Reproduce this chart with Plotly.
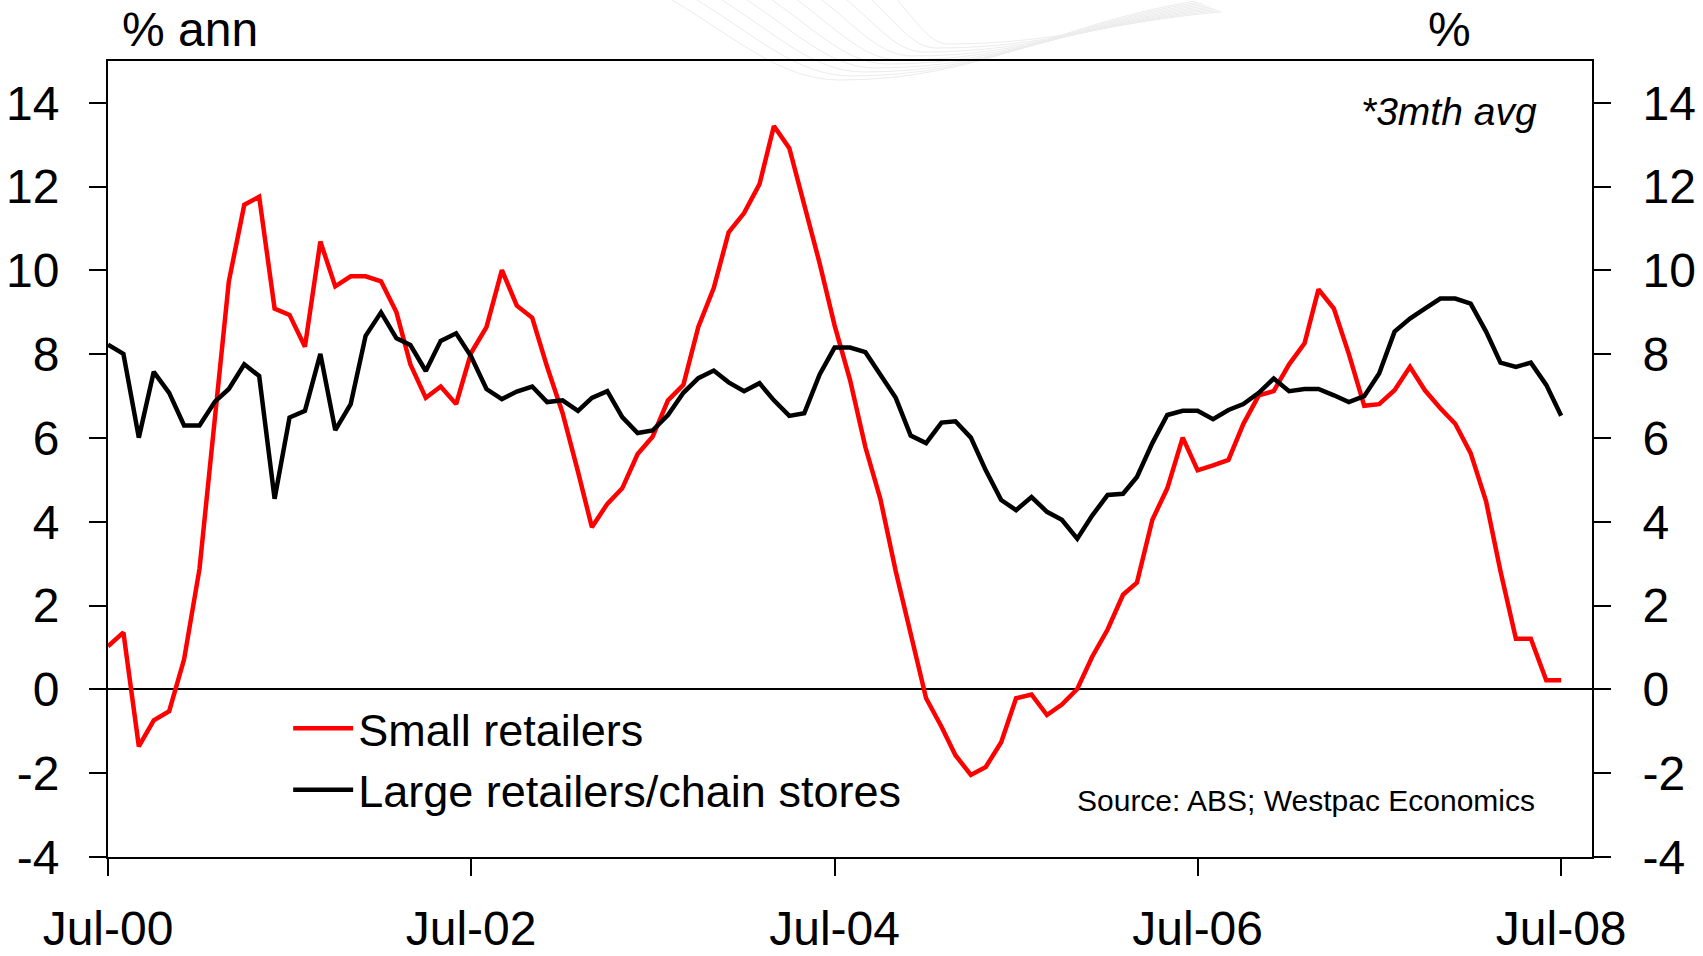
import pandas as pd
import plotly.graph_objects as go

# Monthly observations, Jul-2000 to Jul-2008 (3 month average, % annual growth)
months = pd.date_range("2000-07-01", "2008-07-01", freq="MS")

small_retailers = [
    1.03, 1.36, -1.36, -0.74, -0.52, 0.72, 2.88, 6.4, 9.74, 11.57, 11.76, 9.09,
    8.94, 8.18, 10.69, 9.62, 9.86, 9.86, 9.74, 9.0, 7.76, 6.96, 7.23, 6.81,
    8.03, 8.65, 10.01, 9.16, 8.87, 7.7, 6.6, 5.2, 3.87, 4.43, 4.80, 5.62,
    6.03, 6.90, 7.27, 8.65, 9.58, 10.91, 11.37, 12.06, 13.45, 12.92, 11.59, 10.17,
    8.69, 7.39, 5.78, 4.55, 2.82, 1.33, -0.21, -0.89, -1.57, -2.04, -1.85, -1.26,
    -0.21, -0.12, -0.61, -0.36, 0.01, 0.78, 1.43, 2.26, 2.55, 4.05, 4.80, 6.01,
    5.23, 5.35, 5.48, 6.34, 7.02, 7.12, 7.76, 8.26, 9.55, 9.09, 8.01, 6.77,
    6.81, 7.14, 7.70, 7.14, 6.71, 6.34, 5.64, 4.49, 2.82, 1.21, 1.21, 0.22,
    0.22,
]

large_retailers = [
    8.23, 8.01, 6.01, 7.58, 7.08, 6.30, 6.30, 6.87, 7.17, 7.76, 7.48, 4.55,
    6.49, 6.65, 8.01, 6.19, 6.81, 8.44, 9.0, 8.38, 8.22, 7.60, 8.32, 8.50,
    7.95, 7.17, 6.93, 7.11, 7.23, 6.86, 6.90, 6.65, 6.96, 7.12, 6.50, 6.12,
    6.18, 6.55, 7.08, 7.43, 7.61, 7.33, 7.12, 7.31, 6.90, 6.53, 6.59, 7.52,
    8.16, 8.16, 8.05, 7.52, 6.96, 6.06, 5.88, 6.37, 6.40, 6.01, 5.23, 4.52,
    4.28, 4.59, 4.24, 4.05, 3.60, 4.15, 4.64, 4.67, 5.07, 5.88, 6.55, 6.65,
    6.65, 6.45, 6.67, 6.81, 7.08, 7.42, 7.12, 7.17, 7.17, 7.02, 6.86, 7.0,
    7.54, 8.54, 8.85, 9.09, 9.33, 9.33, 9.21, 8.54, 7.80, 7.70, 7.80, 7.27,
    6.53,
]

x_tick_dates = ["2000-07-01", "2002-07-01", "2004-07-01", "2006-07-01", "2008-07-01"]
x_tick_labels = ["Jul-00", "Jul-02", "Jul-04", "Jul-06", "Jul-08"]
y_tick_values = [-4, -2, 0, 2, 4, 6, 8, 10, 12, 14]
y_tick_labels = ["-4", "-2", "0", "2", "4", "6", "8", "10", "12", "14"]

FONT = "Liberation Sans, Arial, sans-serif"

# page geometry (pixels) used for the decorative header waves
W, H = 1703, 956
PL, PR, PT, PB = 108, 111, 61, 99


def to_paper(px, py):
    return (px - PL) / (W - PL - PR), (H - PB - py) / (H - PT - PB)


def wave_path(k):
    x0, y0 = 672 + 25 * k, 0
    xt, yt = 840 + 12 * k, 80 - 4 * k
    x1, y1 = 1195 + 3 * k, 1 + 1.2 * k
    pts = [
        (x0, y0),
        (x0 + 0.4 * (xt - x0), 0.5 * yt), (xt - 0.35 * (xt - x0), yt), (xt, yt),
        (xt + 0.4 * (x1 - xt), yt), (x1 - 0.4 * (x1 - xt), y1 + 0.3 * (yt - y1)), (x1, y1),
    ]
    p = [to_paper(a, b) for a, b in pts]
    s = "M {:.5f},{:.5f} ".format(*p[0])
    s += "C {:.5f},{:.5f} {:.5f},{:.5f} {:.5f},{:.5f} ".format(*p[1], *p[2], *p[3])
    s += "C {:.5f},{:.5f} {:.5f},{:.5f} {:.5f},{:.5f}".format(*p[4], *p[5], *p[6])
    return s


fig = go.Figure()
fig.add_trace(go.Scatter(
    x=months, y=small_retailers, name="Small retailers", mode="lines",
    line=dict(color="#ff0000", width=4.5),
))
fig.add_trace(go.Scatter(
    x=months, y=large_retailers, name="Large retailers/chain stores", mode="lines",
    line=dict(color="#000000", width=4.5),
))
# invisible trace to carry the right-hand axis
fig.add_trace(go.Scatter(
    x=[months[0]], y=[None], yaxis="y2", showlegend=False, hoverinfo="skip",
))

axis_common = dict(
    range=[-4, 15], tickvals=y_tick_values, ticktext=y_tick_labels,
    ticks="outside", ticklen=17, tickwidth=1.5, tickcolor="black",
    showgrid=False, showline=True, linecolor="black", linewidth=2,
    tickfont=dict(family=FONT, size=48, color="black"),
    automargin=False,
)

fig.update_layout(
    width=W, height=H,
    margin=dict(l=PL, r=PR, t=PT, b=PB, autoexpand=False),
    paper_bgcolor="white", plot_bgcolor="white",
    font=dict(family=FONT, color="black"),
    xaxis=dict(
        type="date", range=["2000-07-01", "2008-09-01"],
        tickvals=x_tick_dates, ticktext=x_tick_labels,
        ticks="outside", ticklen=17, tickwidth=1.5, tickcolor="black",
        showgrid=False, showline=True, linecolor="black", linewidth=2, mirror=True,
        tickfont=dict(family=FONT, size=48, color="black"),
        ticklabelstandoff=11, automargin=False,
    ),
    yaxis=dict(
        **axis_common, side="left",
        zeroline=True, zerolinecolor="black", zerolinewidth=1.5,
        ticklabelstandoff=20,
    ),
    yaxis2=dict(
        **axis_common, side="right", overlaying="y",
        zeroline=False, ticklabelstandoff=22,
    ),
    legend=dict(
        x=0.1214, y=0.2066, xanchor="left", yanchor="top",
        bgcolor="rgba(0,0,0,0)", borderwidth=0,
        font=dict(family=FONT, size=45, color="black"),
        itemwidth=60, tracegroupgap=0,
    ),
    showlegend=True,
    shapes=[
        dict(type="path", path=wave_path(k), xref="paper", yref="paper",
             line=dict(color="rgb(236,236,236)", width=1), layer="below")
        for k in range(10)
    ],
)

fig.add_annotation(text="% ann", xref="paper", yref="paper", x=0.0, y=1.039,
                   xshift=12, xanchor="left", yanchor="middle",
                   showarrow=False, font=dict(family=FONT, size=48, color="black"))
fig.add_annotation(text="%", xref="paper", yref="paper", x=1.0, y=1.039,
                   xshift=-143, xanchor="center", yanchor="middle",
                   showarrow=False, font=dict(family=FONT, size=48, color="black"))
fig.add_annotation(text="<i>*3mth avg</i>", xref="paper", yref="paper", x=1.0, y=0.937,
                   xshift=-53, xanchor="right", yanchor="middle",
                   showarrow=False, font=dict(family=FONT, size=39, color="black"))
fig.add_annotation(text="Source: ABS; Westpac Economics", xref="paper", yref="paper",
                   x=1.0, y=0.071, xshift=-55, xanchor="right", yanchor="middle",
                   showarrow=False, font=dict(family=FONT, size=30, color="black"))

fig.write_html("out.html")
